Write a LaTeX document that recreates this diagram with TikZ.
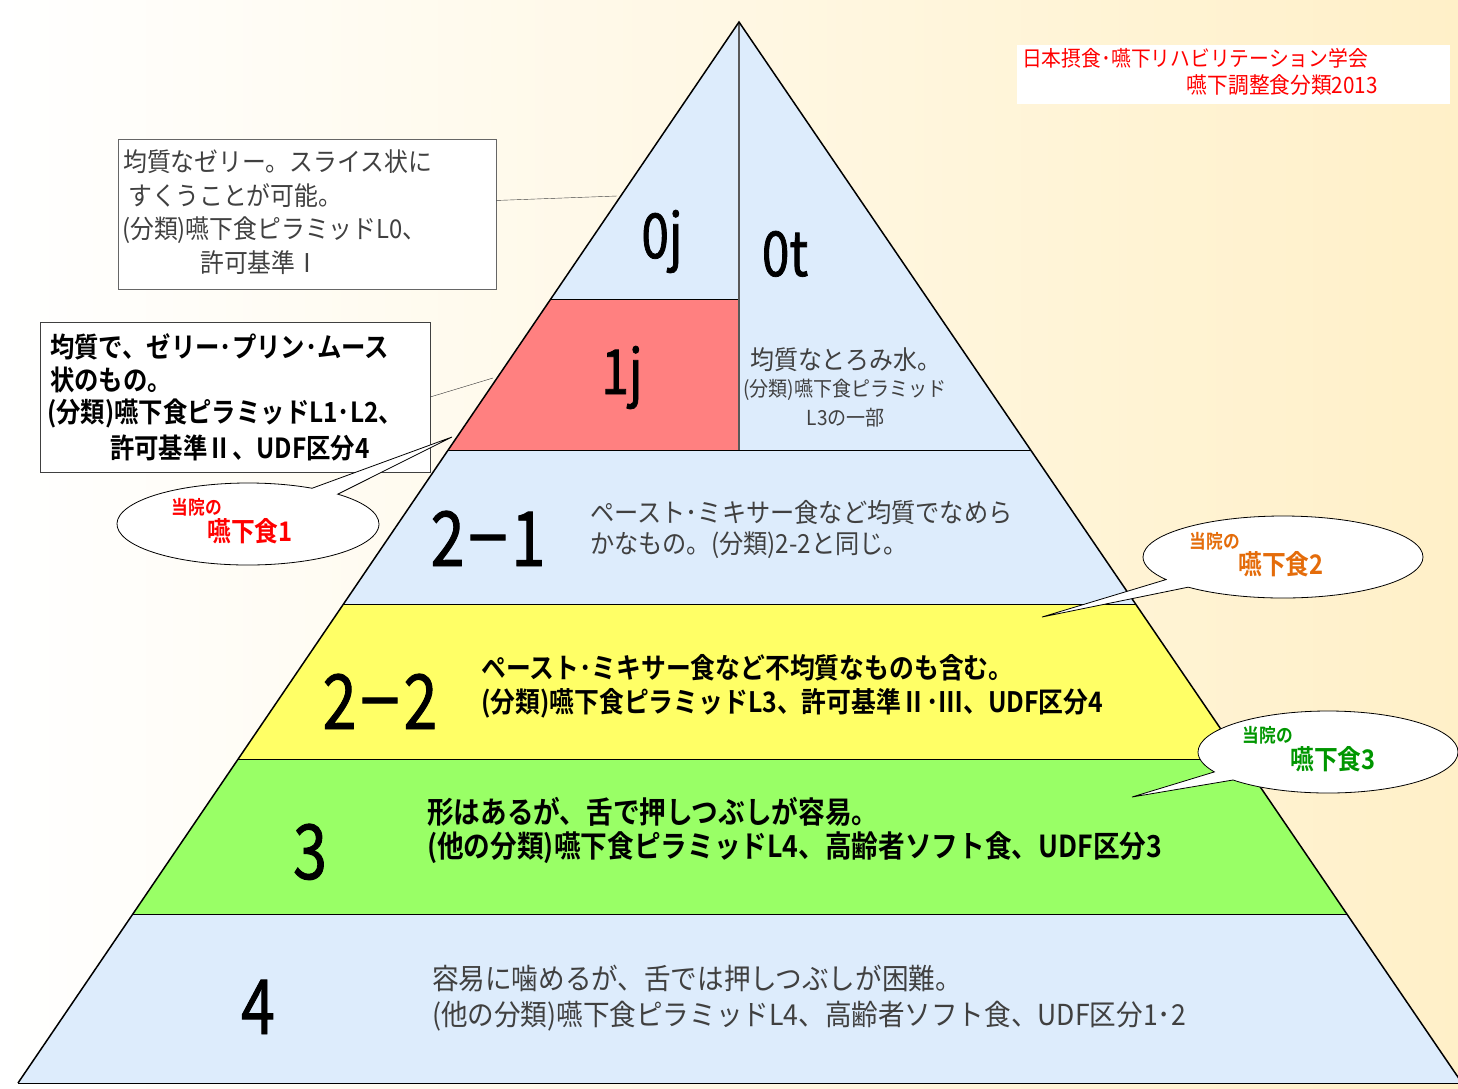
\documentclass[tikz,border=0pt]{standalone}
\usepackage{fontspec}
\setmainfont{Noto Sans CJK JP}
\newfontfamily\labfont[FakeStretch=0.8,FakeBold=1.2]{Noto Sans CJK JP}
\newfontfamily\dashfont[FakeStretch=0.62,FakeBold=1.4]{Noto Sans CJK JP}
\newfontfamily\rgfont[FakeStretch=0.92]{Noto Sans CJK JP}
\newfontfamily\bdfont[FakeStretch=0.88]{Noto Sans CJK JP Bold}
\usetikzlibrary{shapes.callouts,calc}
\definecolor{cream}{RGB}{255,240,200}
\definecolor{lblue}{RGB}{221,236,252}
\definecolor{pinkred}{RGB}{255,128,128}
\definecolor{yel}{RGB}{255,255,102}
\definecolor{grn}{RGB}{153,255,102}
\definecolor{tgray}{RGB}{64,64,64}
\definecolor{orng}{RGB}{228,108,10}
\definecolor{dgrn}{RGB}{0,150,0}
\newcommand\fsz[1]{\fontsize{#1}{#1}\selectfont}
\newcommand\ldash{{\dashfont －}}
\begin{document}
\begin{tikzpicture}[x=1pt,y=-1pt,
  lab/.style={anchor=base,inner sep=0,font=\labfont\fsz{62}},
  biglab/.style={anchor=base,inner sep=0,font=\labfont\fsz{76}},
  gt/.style={anchor=west,inner sep=0,text=tgray},
  bt/.style={anchor=west,inner sep=0,text=black},
  bubble/.style={ellipse callout,draw=black,fill=white,inner sep=0,line width=0.8pt,callout pointer arc=14},
  ct/.style={inner sep=0},
  tierline/.style={draw=black,line width=1pt}]
\useasboundingbox (0,0) rectangle (1458,1088);
\clip (0,0) rectangle (1458,1088);
\shade[left color=white,right color=cream] (0,0) rectangle (1458,1088);
% pyramid points
\coordinate (A) at (739,22);
\coordinate (L1) at (550.8,299); \coordinate (M1) at (739,299);
\coordinate (L2) at (448.2,450); \coordinate (M2) at (739,450); \coordinate (R2) at (1030.7,450);
\coordinate (L3) at (343.5,604); \coordinate (R3) at (1135.7,604);
\coordinate (L4) at (238.2,759); \coordinate (R4) at (1241.3,759);
\coordinate (L5) at (132.9,914); \coordinate (R5) at (1347,914);
\coordinate (L6) at (18,1083); \coordinate (R6) at (1462,1083);
% fills
\fill[lblue] (A)--(R2)--(L2)--cycle;
\fill[pinkred] (L1)--(M1)--(M2)--(L2)--cycle;
\fill[lblue] (L2)--(R2)--(R3)--(L3)--cycle;
\fill[yel] (L3)--(R3)--(R4)--(L4)--cycle;
\fill[grn] (L4)--(R4)--(R5)--(L5)--cycle;
\fill[lblue] (L5)--(R5)--(R6)--(L6)--cycle;
% lines
\draw[tierline] (L1)--(M1);
\draw[tierline] (L2)--(R2);
\draw[tierline] (L3)--(R3);
\draw[tierline] (L4)--(R4);
\draw[tierline] (L5)--(R5);
\draw[tierline] (L6)--(R6);
\draw[draw=black!65,line width=2pt] (A)--(M2);
\draw[line width=1.5pt,line join=miter] (L6)--(A)--(R6);
% tier labels
\node[lab] (l0j) at (662,258) {0j};
\node[lab] (l0t) at (785,276) {0t};
\node[lab] (l1j) at (622,394) {1j};
\node[biglab] (l21) at (488,566) {2\ldash1};
\node[biglab] (l22) at (380,729) {2\ldash2};
\node[biglab] (l3) at (310,879) {3};
\node[biglab] (l4) at (258,1034) {4};
% tier texts
\node[gt,font=\rgfont\fsz{26}] (t0ta) at (750,360) {均質なとろみ水。};
\node[gt,font=\rgfont\fsz{20.7}] (t0tb) at (743,390) {(分類)嚥下食ピラミッド};
\node[gt,font=\rgfont\fsz{20.7},anchor=center] (t0tc) at (846,418) {L3の一部};
\node[gt,font=\rgfont\fsz{26.3}] (t21a) at (590,513) {ペースト･ミキサー食など均質でなめら};
\node[gt,font=\rgfont\fsz{26.3}] (t21b) at (590,545) {かなもの。(分類)2-2と同じ。};
\node[bt,font=\bdfont\fsz{28.2}] (t22a) at (481,668) {ペースト･ミキサー食など不均質なものも含む。};
\node[bt,font=\bdfont\fsz{28.2}] (t22b) at (481,703) {(分類)嚥下食ピラミッドL3、許可基準Ⅱ･Ⅲ、UDF区分4};
\node[bt,font=\bdfont\fsz{30.3}] (t3a) at (427,812) {形はあるが、舌で押しつぶしが容易。};
\node[bt,font=\bdfont\fsz{30.3}] (t3b) at (427,848) {(他の分類)嚥下食ピラミッドL4、高齢者ソフト食、UDF区分3};
\node[gt,font=\rgfont\fsz{28.9}] (t4a) at (432,978) {容易に噛めるが、舌では押しつぶしが困難。};
\node[gt,font=\rgfont\fsz{28.9}] (t4b) at (432,1016) {(他の分類)嚥下食ピラミッドL4、高齢者ソフト食、UDF区分1･2};
% title box
\node[fill=white,minimum width=433,minimum height=59,inner sep=0] (tbox) at (1233.5,74.5) {};
\node[anchor=west,inner sep=0,text=red,font=\rgfont\fsz{21.5}] (tt1) at (1022,58) {日本摂食･嚥下リハビリテーション学会};
\node[anchor=east,inner sep=0,text=red,font=\rgfont\fsz{22.5}] (tt2) at (1378,85) {嚥下調整食分類2013};
% box 0j
\node[draw=black!60,fill=white,minimum width=378,minimum height=150,inner sep=0] (b0) at (307,214) {};
\coordinate (p0) at (617,196);
\draw[black!75] ($(b0.north east)!0.41!(b0.south east)$) -- (p0);
\node[gt,font=\rgfont\fsz{25.9}] (b0a) at (123,162) {均質なゼリー。スライス状に};
\node[gt,font=\rgfont\fsz{25.9}] (b0b) at (128,196) {すくうことが可能。};
\node[gt,font=\rgfont\fsz{25.9}] (b0c) at (122,230) {(分類)嚥下食ピラミッドL0、};
\node[gt,font=\rgfont\fsz{25.9}] (b0d) at (200,263) {許可基準Ⅰ};
% box 1j
\node[draw=black!75,fill=white,minimum width=390,minimum height=150,inner sep=0] (b1) at (235,397) {};
\coordinate (p1) at (493,378);
\draw[black!80] (b1.east) -- (p1);
\node[bt,font=\bdfont\fsz{27.7}] (b1a) at (50,347) {均質で、ゼリー･プリン･ムース};
\node[bt,font=\bdfont\fsz{27.7}] (b1b) at (50,380) {状のもの。};
\node[bt,font=\bdfont\fsz{27.7}] (b1c) at (47,413) {(分類)嚥下食ピラミッドL1･L2、};
\node[bt,font=\bdfont\fsz{27.7}] (b1d) at (110,448) {許可基準Ⅱ、UDF区分4};
% callouts
\node[bubble,minimum width=262,minimum height=82,callout absolute pointer={(452,437)}] (c1) at (248,524) {};
\node[ct,text=red,font=\bdfont\fsz{19}] (c1a) at (197,507) {当院の};
\node[ct,text=red,font=\bdfont\fsz{27}] (c1b) at (250,531) {嚥下食1};
\node[bubble,minimum width=280,minimum height=82,callout absolute pointer={(1042,617)}] (c2) at (1283,557) {};
\node[ct,text=orng,font=\bdfont\fsz{19}] (c2a) at (1215,541) {当院の};
\node[ct,text=orng,font=\bdfont\fsz{27}] (c2b) at (1281,564) {嚥下食2};
\node[bubble,minimum width=260,minimum height=82,callout absolute pointer={(1132,797)}] (c3) at (1328,752) {};
\node[ct,text=dgrn,font=\bdfont\fsz{19}] (c3a) at (1268,735) {当院の};
\node[ct,text=dgrn,font=\bdfont\fsz{27}] (c3b) at (1333,759) {嚥下食3};
\end{tikzpicture}
\end{document}
